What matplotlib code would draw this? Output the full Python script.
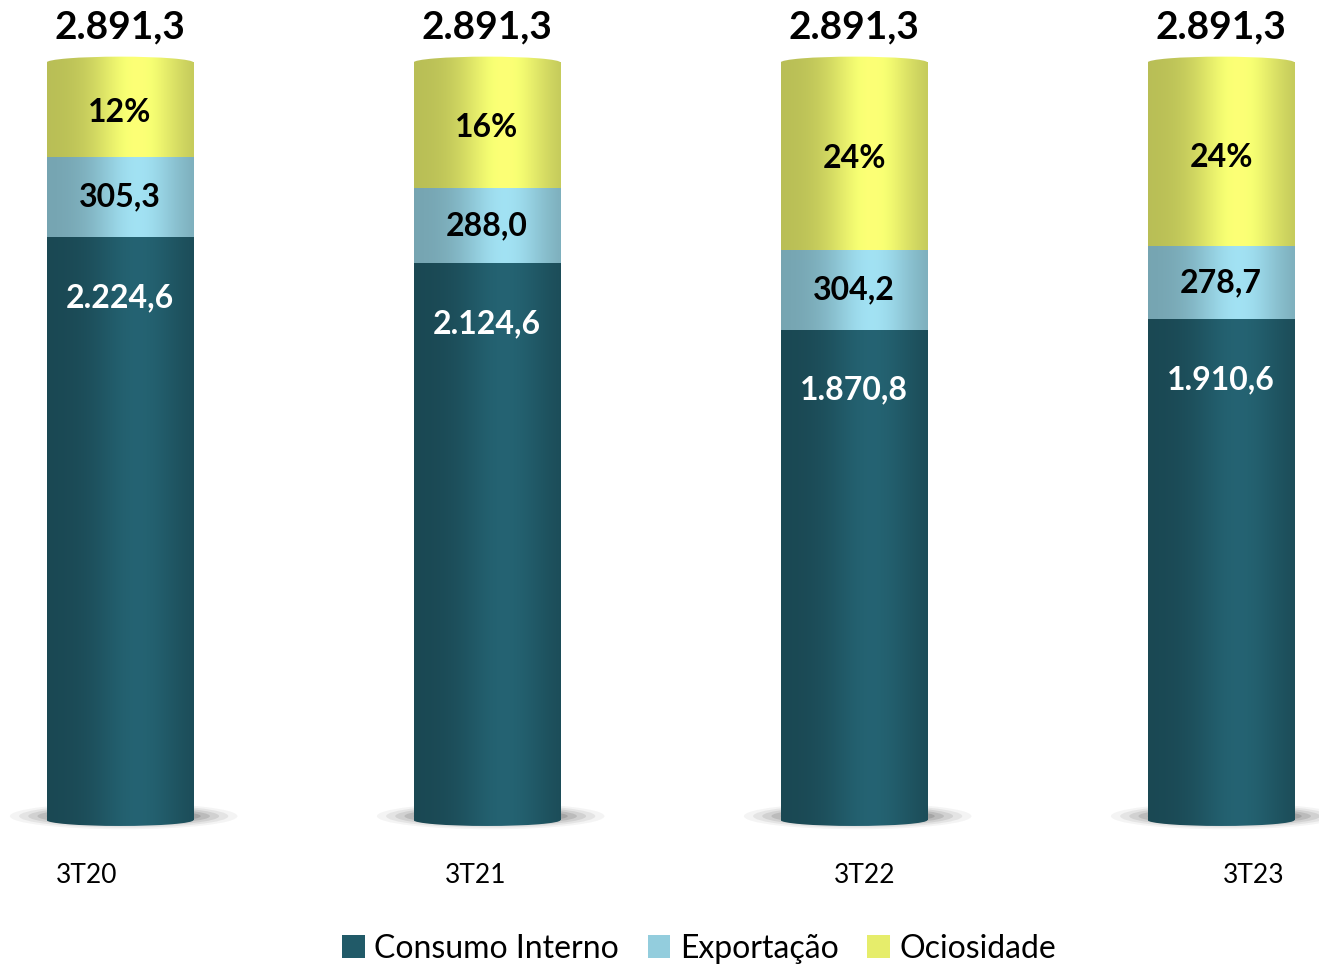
import numpy as np
import matplotlib.pyplot as plt
from matplotlib.patches import Ellipse

# ==========================================================
# Dados (mil t) - capacidade por trimestre
# ==========================================================
trimestres = ["3T20", "3T21", "3T22", "3T23"]
consumo_interno = [2224.6, 2124.6, 1870.8, 1910.6]
exportacao = [305.3, 288.0, 304.2, 278.7]
capacidade = [2891.3, 2891.3, 2891.3, 2891.3]

ociosidade = [c - ci - ex for c, ci, ex in zip(capacidade, consumo_interno, exportacao)]

cor_consumo = "#215A68"
cor_export = "#93CDDD"
cor_ocio = "#E6ED6B"


def fmt_br(v):
    s = f"{v:,.1f}"
    return s.replace(",", "X").replace(".", ",").replace("X", ".")


def gradiente(cor):
    # cilindro: bordas escuras, brilho a ~60% da largura
    base = np.array(plt.matplotlib.colors.to_rgb(cor))
    t = np.linspace(0, 1, 200)
    m = 0.80 + 0.30 * np.exp(-((t - 0.62) / 0.30) ** 2)
    img = np.clip(base[None, :] * m[:, None], 0, 1)
    return img[None, :, :]


plt.rcParams["font.family"] = ["Lato", "DejaVu Sans"]

fig = plt.figure(figsize=(13.19, 9.66), dpi=100)
ax = fig.add_axes([0, 0, 1, 1])

x = np.arange(len(trimestres))
largura = 0.40

b1 = ax.bar(x, consumo_interno, largura, color=cor_consumo, label="Consumo Interno", zorder=2)
b2 = ax.bar(x, exportacao, largura, bottom=consumo_interno, color=cor_export, label="Exportação", zorder=2)
topo_exp = [a + b for a, b in zip(consumo_interno, exportacao)]
b3 = ax.bar(x, ociosidade, largura, bottom=topo_exp, color=cor_ocio, label="Ociosidade", zorder=2)

# efeito cilindro
for barras, cor in [(b1, cor_consumo), (b2, cor_export), (b3, cor_ocio)]:
    for p in barras:
        x0, y0 = p.get_x(), p.get_y()
        ax.imshow(gradiente(cor), extent=(x0, x0 + p.get_width(), y0, y0 + p.get_height()),
                  aspect="auto", zorder=3, interpolation="bilinear")

elip_h = 45
for i in range(len(x)):
    # sombra na base
    for k, a in enumerate([0.06, 0.09, 0.12, 0.16, 0.2]):
        sh = Ellipse((x[i] + 0.01, 15), 0.62 - k * 0.05, 100 - k * 12,
                     color="#4a4a4a", alpha=a, lw=0, zorder=1)
        ax.add_patch(sh)
    # base arredondada
    el = Ellipse((x[i], 0), largura, elip_h, lw=0, fc="none", zorder=3)
    ax.add_patch(el)
    im = ax.imshow(gradiente(cor_consumo), extent=(x[i] - largura / 2, x[i] + largura / 2,
                   -elip_h, elip_h), aspect="auto", zorder=3, interpolation="bilinear")
    im.set_clip_path(el)
    # topo arredondado
    el2 = Ellipse((x[i], capacidade[i]), largura, elip_h, lw=0, fc="none", zorder=3)
    ax.add_patch(el2)
    im2 = ax.imshow(gradiente(cor_ocio), extent=(x[i] - largura / 2, x[i] + largura / 2,
                    capacidade[i] - elip_h, capacidade[i] + elip_h), aspect="auto",
                    zorder=3, interpolation="bilinear")
    im2.set_clip_path(el2)

# rótulos
for i in range(len(x)):
    ax.text(x[i], capacidade[i] + 70, fmt_br(capacidade[i]), ha="center", va="bottom",
            fontsize=28, fontweight="bold", color="black", zorder=5)
    pct = int(ociosidade[i] / capacidade[i] * 100)
    ax.text(x[i], topo_exp[i] + ociosidade[i] / 2 - 10, f"{pct}%", ha="center", va="center",
            fontsize=23, fontweight="bold", color="black", zorder=5)
    ax.text(x[i], consumo_interno[i] + exportacao[i] / 2, fmt_br(exportacao[i]), ha="center",
            va="center", fontsize=23, fontweight="bold", color="black", zorder=5)
    ax.text(x[i], consumo_interno[i] - 230, fmt_br(consumo_interno[i]), ha="center",
            va="center", fontsize=23, fontweight="bold", color="white", zorder=5)

desloc = [-0.09, -0.03, 0.03, 0.09]
for i, t in enumerate(trimestres):
    ax.text(x[i] + desloc[i], -210, t, ha="center", va="center", fontsize=19, color="black")

ax.set_xlim(-0.327, 3.267)
ax.set_ylim(-557, 3130)
ax.axis("off")

fig.legend(handles=[b1, b2, b3], loc="center", bbox_to_anchor=(0.53, 0.018), ncol=3,
           frameon=False, fontsize=23, handlelength=0.7, handleheight=0.7,
           handletextpad=0.3, columnspacing=0.9)

fig.savefig("out.png", dpi=100, facecolor="white")
